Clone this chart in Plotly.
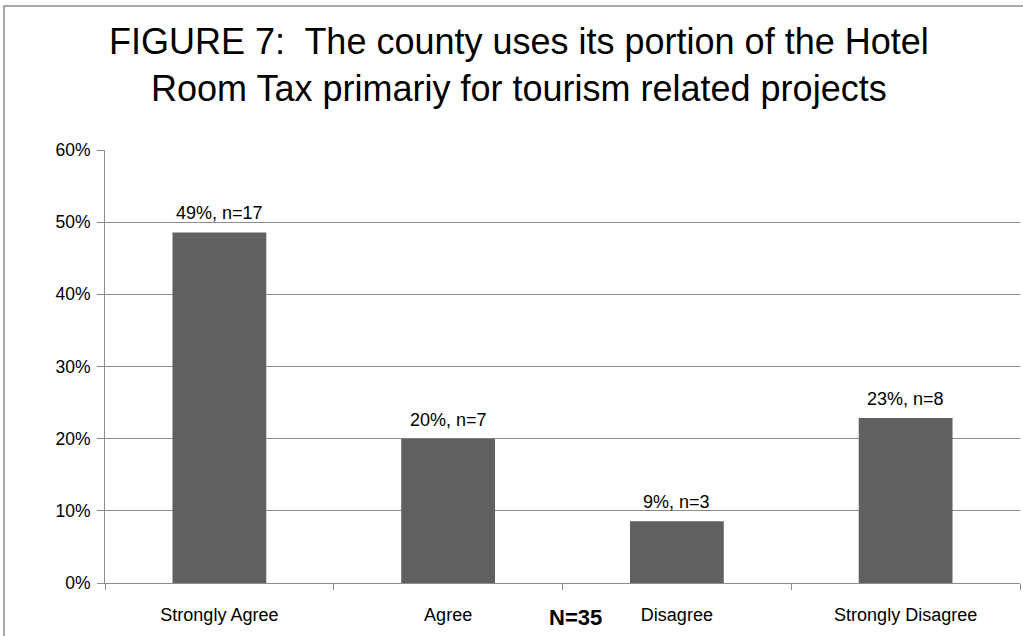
import plotly.graph_objects as go

# Survey responses (N=35)
categories = ["Strongly Agree", "Agree", "Disagree", "Strongly Disagree"]
counts = [17, 7, 3, 8]
total = 35

shares = [c / total for c in counts]
labels = [f"{round(s * 100)}%, n={c}" for s, c in zip(shares, counts)]

FONT = "Liberation Sans, Arial, sans-serif"
GRID = "#8c8c8c"

fig = go.Figure(
    go.Bar(
        x=categories,
        y=shares,
        width=0.41,
        marker=dict(color="#606060", line=dict(width=0)),
        hoverinfo="skip",
    )
)

fig.update_layout(
    width=1023,
    height=636,
    margin=dict(l=105, r=3, t=150, b=53),
    paper_bgcolor="white",
    plot_bgcolor="white",
    showlegend=False,
    font=dict(family=FONT, color="#000000"),
)

fig.update_xaxes(
    type="category",
    tickson="boundaries",
    ticks="outside",
    ticklen=6,
    tickcolor=GRID,
    showline=True,
    linecolor=GRID,
    linewidth=1,
    showgrid=False,
    ticklabelstandoff=15,
    tickfont=dict(family=FONT, size=18, color="#000000"),
)

fig.update_yaxes(
    range=[0, 0.6],
    tickvals=[0, 0.1, 0.2, 0.3, 0.4, 0.5, 0.6],
    tickformat=".0%",
    ticks="outside",
    ticklen=7,
    tickcolor=GRID,
    showline=True,
    linecolor=GRID,
    linewidth=1,
    showgrid=True,
    gridcolor=GRID,
    gridwidth=1,
    zeroline=False,
    ticklabelstandoff=3,
    tickfont=dict(family=FONT, size=17.5, color="#000000"),
)

# Value labels above each bar
for cat, s, lab in zip(categories, shares, labels):
    fig.add_annotation(
        x=cat, y=s, text=lab,
        xref="x", yref="y",
        xanchor="center", yanchor="bottom",
        yshift=7,
        showarrow=False,
        font=dict(family=FONT, size=18, color="#000000"),
    )

# Title
fig.add_annotation(
    text="FIGURE 7:  The county uses its portion of the Hotel<br>Room Tax primariy for tourism related projects",
    xref="paper", yref="paper",
    x=0.4525, y=1.197,
    xanchor="center", yanchor="middle",
    showarrow=False,
    font=dict(family=FONT, size=36, color="#000000"),
)

# Chart frame
fig.add_shape(
    type="rect",
    xref="paper", yref="paper",
    x0=-0.1104, x1=1.05, y0=-0.2, y1=1.3326,
    line=dict(color="#8c8c8c", width=1.5),
    fillcolor="rgba(0,0,0,0)",
    layer="below",
)

fig.add_annotation(
    text="<b>N=35</b>",
    xref="paper", yref="paper",
    x=0.514, y=-0.079,
    xanchor="center", yanchor="middle",
    showarrow=False,
    font=dict(family=FONT, size=22, color="#000000"),
)

fig.write_html("out.html")
